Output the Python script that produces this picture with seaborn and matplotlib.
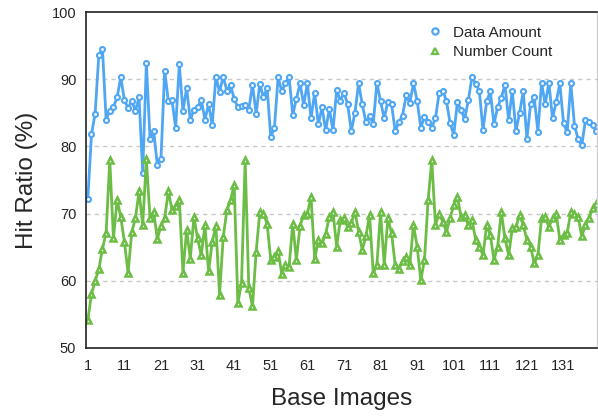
import matplotlib
matplotlib.use("Agg")
import matplotlib.pyplot as plt
import pandas as pd
import seaborn as sns

# Hit ratio (%) per base image
data_amount = [
    72.2, 81.8, 84.9, 93.6, 94.5, 84.0, 85.3, 85.9, 87.3, 90.3,
    86.9, 85.7, 86.8, 85.3, 87.3, 76.1, 92.4, 81.1, 82.3, 77.2,
    78.2, 91.3, 86.8, 86.9, 82.8, 92.2, 85.3, 88.7, 84.0, 85.4,
    85.8, 86.9, 84.0, 86.3, 83.2, 90.4, 88.1, 90.4, 88.3, 89.1,
    87.1, 85.8, 86.0, 86.2, 85.5, 89.2, 84.9, 89.3, 87.3, 88.7,
    81.4, 82.8, 90.3, 88.2, 89.4, 90.4, 84.7, 87.1, 89.4, 86.2,
    89.4, 84.2, 88.0, 83.3, 85.8, 82.4, 85.6, 82.4, 88.4, 86.8,
    88.0, 86.3, 82.3, 85.0, 89.4, 86.3, 83.6, 84.5, 83.3, 89.5,
    86.7, 84.2, 86.6, 86.3, 82.3, 83.6, 84.6, 87.6, 86.5, 89.4,
    86.8, 82.8, 84.4, 83.7, 82.8, 84.2, 87.9, 88.3, 86.8, 83.5,
    81.7, 86.6, 85.4, 84.1, 86.9, 90.4, 89.3, 88.3, 82.4, 86.7,
    88.2, 83.3, 85.9, 87.2, 89.2, 83.9, 88.3, 82.3, 85.0, 88.2,
    81.1, 86.3, 87.3, 82.2, 89.5, 86.3, 89.5, 84.2, 86.6, 89.4,
    83.5, 82.1, 89.4, 83.1, 81.1, 80.2, 83.9, 83.6, 83.2, 82.3,
]
number_count = [
    54.2, 58.0, 60.0, 61.7, 64.8, 67.1, 78.0, 66.3, 72.0, 69.5,
    65.8, 61.2, 67.2, 69.3, 73.3, 68.3, 78.1, 69.3, 70.3, 66.2,
    68.2, 69.3, 73.3, 70.6, 71.2, 72.0, 61.2, 67.6, 63.3, 69.5,
    66.3, 63.8, 68.3, 61.4, 65.8, 68.2, 57.9, 66.5, 70.5, 72.0,
    74.3, 56.7, 59.6, 78.0, 58.9, 56.2, 64.3, 70.3, 70.0, 68.5,
    63.1, 63.5, 64.5, 61.0, 62.4, 62.1, 68.5, 63.1, 68.2, 69.8,
    70.0, 72.5, 63.2, 66.1, 65.6, 67.0, 69.5, 70.3, 65.1, 69.0,
    69.3, 68.0, 68.6, 70.3, 67.3, 64.6, 66.6, 69.8, 61.1, 62.4,
    70.3, 62.4, 69.3, 67.1, 62.4, 61.7, 63.0, 63.6, 62.4, 68.3,
    65.1, 60.1, 63.1, 72.0, 78.0, 68.3, 70.0, 68.8, 67.3, 69.3,
    71.3, 72.5, 69.5, 69.8, 68.3, 69.0, 66.1, 65.1, 63.8, 68.3,
    66.8, 63.1, 65.1, 70.3, 66.3, 63.8, 67.8, 68.0, 69.8, 68.3,
    66.1, 65.1, 62.6, 63.8, 69.3, 69.5, 68.0, 69.3, 70.0, 66.1,
    66.8, 67.1, 70.3, 70.0, 69.5, 66.6, 68.3, 69.3, 70.8, 71.5,
]
base_images = list(range(1, len(number_count) + 1))
x_ticks = list(range(1, 132, 10))
y_ticks = [50, 60, 70, 80, 90, 100]

df = pd.DataFrame({
    "Base Images": base_images * 2,
    "Hit Ratio": data_amount + number_count,
    "Series": ["Data Amount"] * len(data_amount) + ["Number Count"] * len(number_count),
})

sns.set_style("white")
plt.rcParams["font.family"] = ["Liberation Sans", "DejaVu Sans"]

fig = plt.figure(figsize=(5.98, 4.17), dpi=100)
ax = fig.add_axes([0.1438, 0.1655, 0.8542, 0.8055])

blue = "#4FA6F3"
green = "#6CBD45"
sns.lineplot(data=df, x="Base Images", y="Hit Ratio", hue="Series", style="Series",
             palette=[blue, green], markers=["o", "^"], dashes=False,
             markersize=3.6, markeredgewidth=1.5, linewidth=2.0,
             ax=ax, legend=False)
# seaborn paints marker edges white; give them the series colour instead
for line in ax.lines:
    line.set_markeredgecolor(line.get_color())
    line.set_markerfacecolor("white")
    if line.get_marker() == "^":
        line.set_markersize(4.6)
        line.set_markeredgewidth(1.8)

ax.set_xlim(0.5, len(number_count) + 0.1)
ax.set_ylim(50, 100)
ax.set_xticks(x_ticks)
ax.set_yticks(y_ticks)
ax.tick_params(axis="both", labelsize=10.5, length=0)
ax.tick_params(axis="x", pad=8)
ax.tick_params(axis="y", pad=7)
for y in [60, 70, 80, 90]:
    ax.axhline(y, color="#c8c8c8", linestyle=(0, (3, 3)), linewidth=1, zorder=0)

ax.set_xlabel("Base Images", fontsize=17.5, labelpad=11)
ax.set_ylabel("Hit Ratio (%)", fontsize=17.5, labelpad=10)

for side in ["left", "bottom", "top"]:
    ax.spines[side].set_color("#222222")
    ax.spines[side].set_linewidth(1.2)
ax.spines["right"].set_color("#d0d0d0")
ax.spines["right"].set_linewidth(1)

handles = [
    plt.Line2D([], [], color=blue, marker="o", linestyle="none", markersize=4.5,
               markerfacecolor="white", markeredgewidth=1.6),
    plt.Line2D([], [], color=green, marker="^", linestyle="none", markersize=5,
               markerfacecolor="white", markeredgewidth=1.6),
]
ax.legend(handles, ["Data Amount", "Number Count"], loc="upper left",
          bbox_to_anchor=(0.638, 1.0), frameon=False, fontsize=11,
          handlelength=1.2, handletextpad=0.6, labelspacing=0.35)

fig.savefig("out.png", dpi=100)
